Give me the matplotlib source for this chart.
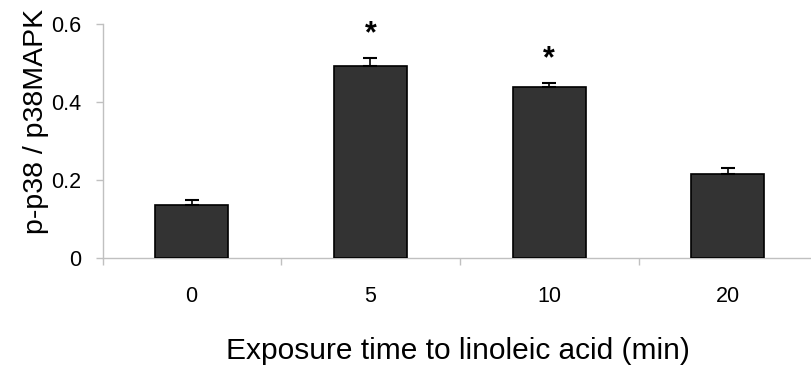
import matplotlib
matplotlib.use("Agg")
import matplotlib.pyplot as plt
from matplotlib.ticker import FixedLocator

categories = ["0", "5", "10", "20"]
values = [0.135, 0.493, 0.438, 0.215]
errors = [0.014, 0.019, 0.012, 0.015]
significant = [False, True, True, False]
y_ticks = [0, 0.2, 0.4, 0.6]
y_tick_labels = ["0", "0.2", "0.4", "0.6"]

plt.rcParams['font.family'] = ['Liberation Sans', 'DejaVu Sans']

fig = plt.figure(figsize=(8.12, 3.73), dpi=100)
ax = fig.add_axes([103/812, (373-258)/373, 1 - 103/812, (258-24)/373])

x = list(range(len(categories)))
ax.bar(x, values, width=0.408, color='#333333', edgecolor='#000000', linewidth=1.2, zorder=3)
ax.errorbar(x, values, yerr=[[0]*len(errors), errors], fmt='none', ecolor='#000000',
            elinewidth=1.2, capsize=4.7, capthick=1.5, zorder=4)

for xi, v, e, s in zip(x, values, errors, significant):
    if s:
        ax.text(xi, v + e + 0.022, "*", ha='center', va='bottom', fontsize=22,
                fontweight='bold', clip_on=False)

ax.set_xlim(-0.495, 3.47)
ax.set_ylim(0, 0.6)

ax.set_yticks(y_ticks)
ax.set_yticklabels(y_tick_labels, fontsize=15.5)
ax.set_xticks(x)
ax.set_xticklabels(categories, fontsize=15.5)
ax.xaxis.set_minor_locator(FixedLocator([-0.495, 0.5, 1.5, 2.5]))
ax.tick_params(axis='x', which='major', length=0, pad=20)
ax.tick_params(axis='x', which='minor', length=5, color='#c0c0c0', width=1)
ax.tick_params(axis='y', which='major', length=5, color='#c0c0c0', width=1, pad=11)

for side in ['top', 'right']:
    ax.spines[side].set_visible(False)
for side in ['left', 'bottom']:
    ax.spines[side].set_color('#c0c0c0')
    ax.spines[side].set_linewidth(1)

ax.set_ylabel("p-p38 / p38MAPK", fontsize=20.5)
ax.yaxis.set_label_coords(-0.076, 0.585)
ax.set_xlabel("Exposure time to linoleic acid (min)", fontsize=21.5, labelpad=22)

fig.savefig("out.png", dpi=100)
